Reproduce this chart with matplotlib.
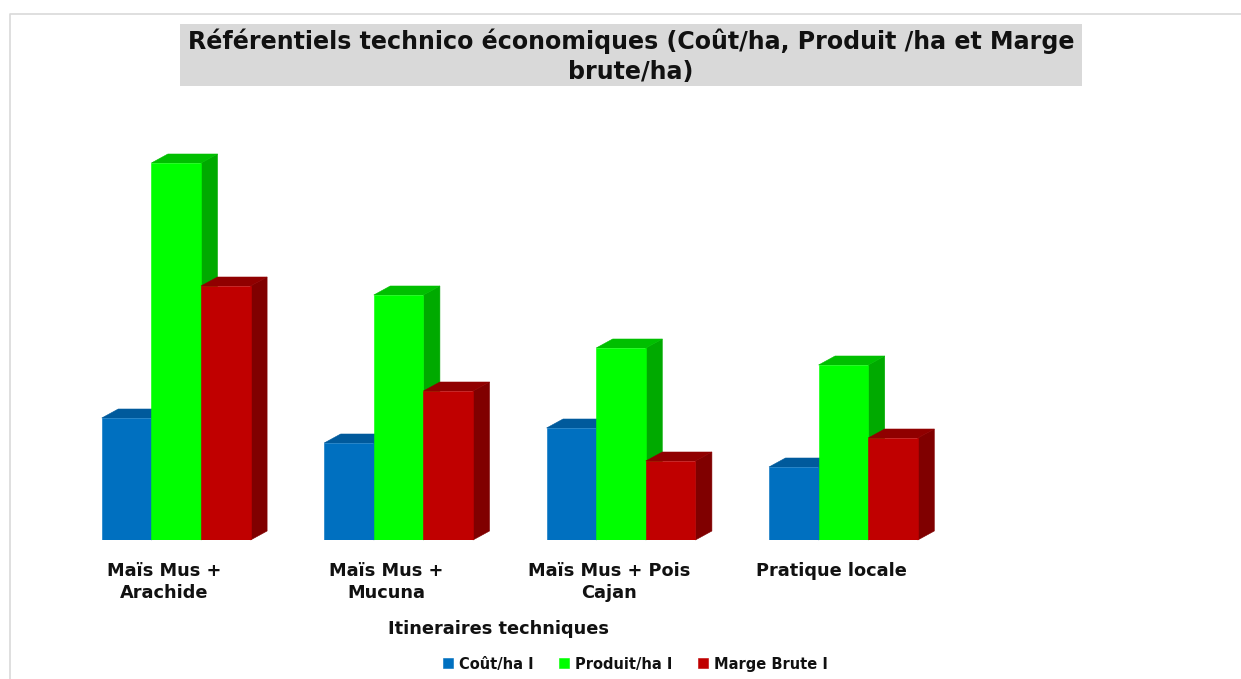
import numpy as np
import matplotlib.pyplot as plt
from matplotlib.lines import Line2D
from matplotlib.patches import Rectangle

plt.rcParams['font.family'] = ['DejaVu Sans']

categories = ['Maïs Mus +\nArachide', 'Maïs Mus +\nMucuna', 'Maïs Mus + Pois\nCajan', 'Pratique locale']
cout = [122, 97, 112, 73]
produit = [377, 245, 192, 175]
marge = [254, 149, 79, 102]
names = ['Coût/ha I', 'Produit/ha I', 'Marge Brute I']

W, H = 1241, 679
fig = plt.figure(figsize=(W/100, H/100), dpi=100)

# axes spans the full width, baseline of the bars at y=540 px
base = 540
top = 100
ax = fig.add_axes([0, (H-base)/H, 1, (base-top)/H])
step = 222.4  # px between groups
x0 = 176.2    # px of first group centre
ax.set_xlim(-x0/step, (W-x0)/step)
ax.set_ylim(0, base-top)
ax.axis('off')

bw = 49.6/step
dx = 16.5/step
dy = 9

series = [
    (cout, '#0070c0', '#005a9c', '#004f88'),
    (produit, '#00ff00', '#00bf00', '#00aa00'),
    (marge, '#c00000', '#900000', '#800000'),
]
xpos = np.arange(len(categories))
handles = []
for k, (vals, front, tp, side) in enumerate(series):
    xs = xpos + (k-1)*bw
    for x, v in zip(xs, vals):
        l = x-bw/2
        r = x+bw/2
        ax.fill([r, r+dx, r+dx, r], [0, dy, v+dy, v], color=side, lw=0.4, clip_on=False)
        ax.fill([l, l+dx, r+dx, r], [v, v+dy, v+dy, v], color=tp, lw=0.4, clip_on=False)
    bars = ax.bar(xs, vals, bw, color=front, edgecolor=front, linewidth=0.4, label=names[k])
    handles.append(bars)

for x, lab in zip(xpos, categories):
    px = x0 + x*step
    fig.text((px-12)/W, 1-562/H, lab, ha='center', va='top', fontsize=12.8, fontweight='bold',
             color='#111111', linespacing=1.3)

# title block
fig.patches.append(Rectangle((180/W, 1-86/H), 902/W, 62/H, transform=fig.transFigure,
                             facecolor='#d9d9d9', edgecolor='none'))
fig.text(631/W, 1-56/H, 'Référentiels technico économiques (Coût/ha, Produit /ha et Marge\nbrute/ha)',
         ha='center', va='center', fontsize=17.15, fontweight='bold', color='#111111', linespacing=1.32)

fig.text(498/W, 1-628.5/H, 'Itineraires techniques', ha='center', va='center', fontsize=12.8,
         fontweight='bold', color='#111111')

fig.legend(handles=handles, loc='center', bbox_to_anchor=(635.5/W, 1-664/H), ncol=3, frameon=False,
           prop={'size': 10.5, 'weight': 'bold'}, handlelength=0.67, handleheight=0.67,
           handletextpad=0.4, columnspacing=1.78, labelcolor='#111111')

# chart area border, only left and top are in frame
fig.add_artist(Line2D([9.5/W, 9.5/W, 1], [0, 1-14/H, 1-14/H], color='#d9d9d9', lw=1.2))

fig.savefig('out.png', dpi=100)
